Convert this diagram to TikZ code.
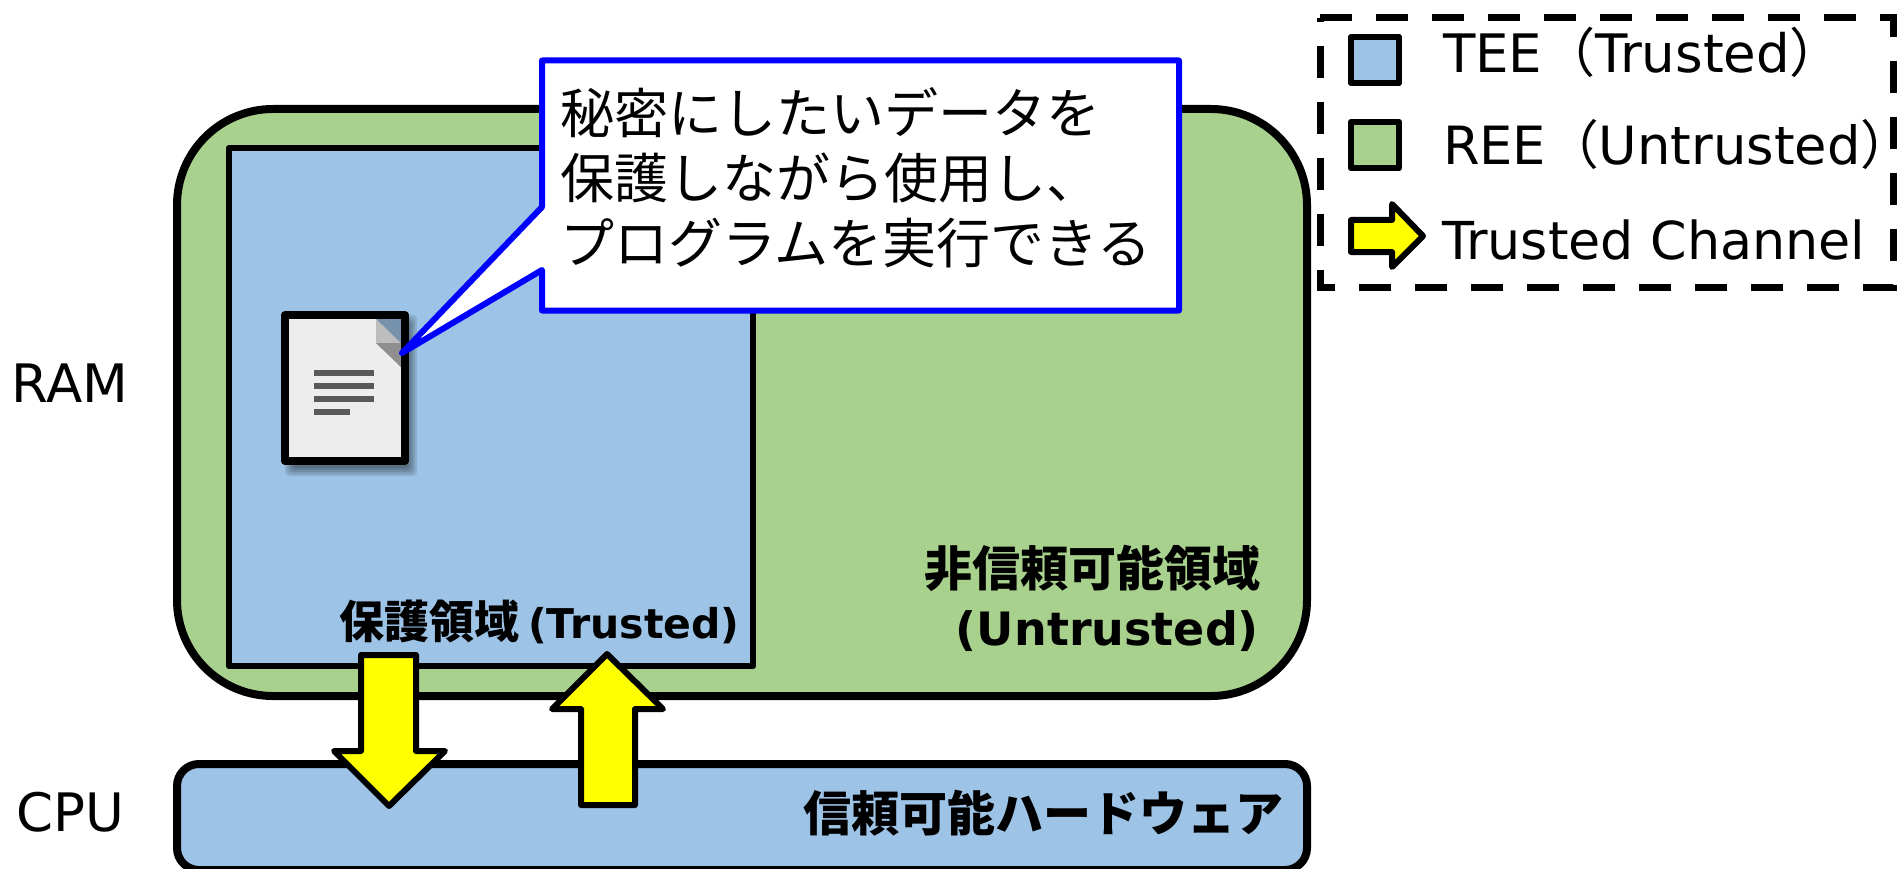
\documentclass[tikz,border=0pt]{standalone}
\usepackage{fontspec}
\setmainfont{DejaVu Sans}
\newfontfamily\cjk{Noto Sans CJK JP}
\definecolor{teeblue}{HTML}{9DC3E6}
\definecolor{reegreen}{HTML}{A9D18E}
\definecolor{calloutblue}{HTML}{0000FF}
\definecolor{chanyellow}{HTML}{FFFF00}
\tikzset{
  region/.style={draw=black,line width=8pt,line join=round},
  inner region/.style={draw=black,line width=6.5pt,line join=round},
  swatch/.style={draw=black,line width=6.5pt,line join=round},
  channel/.style={draw=black,fill=chanyellow,line width=6pt,line join=round},
  plain label/.style={inner sep=0pt,outer sep=0pt,font=\fontsize{53}{65}\selectfont,anchor=base west},
  bold label/.style={inner sep=0pt,outer sep=0pt,font=\fontsize{48}{60}\selectfont\bfseries},
  side label/.style={inner sep=0pt,outer sep=0pt,font=\fontsize{53}{65}\selectfont},
  doc line/.style={fill=black!65,draw=none}
}
\begin{document}
\begin{tikzpicture}[x=1pt,y=-1pt]
\useasboundingbox (0,0) rectangle (1898,869);
% RAM region
\draw[region,fill=reegreen,rounded corners=96pt] (177,109) rectangle (1307,696);
\draw[inner region,fill=teeblue] (229,148) rectangle (753,666);
% document icon
\foreach \s/\o in {0/.10,2/.10,4/.10,6/.10,8/.10}{
  \fill[black,opacity=\o,rounded corners=4pt] (281+\s+4,311+\s+4) rectangle (409+8-\s,466+10-\s);
}
\fill[teeblue!75!black] (376,319) -- (401,319) -- (401,343) -- cycle;
\fill[black!7] (289,319) -- (376,319) -- (376,343) -- (401,367) -- (401,457) -- (289,457) -- cycle;
\fill[black!26] (376,319) -- (376,343) -- (401,343) -- cycle;
\fill[black!44] (376,343) -- (401,343) -- (401,367) -- cycle;
\draw[black,line width=8pt,line join=round] (285,315) rectangle (405,461);
\fill[doc line] (314,370) rectangle (374,376);
\fill[doc line] (314,383) rectangle (374,389);
\fill[doc line] (314,396) rectangle (374,402);
\fill[doc line] (314,409) rectangle (350,415);
% callout
\draw[draw=calloutblue,fill=white,line width=6pt,line join=round]
  (542,60.5) -- (1179,60.5) -- (1179,310.5) -- (542,310.5) -- (542,270) -- (402,353) -- (542,207) -- cycle;
\node[plain label,align=left,anchor=north west,font=\fontsize{54}{65}\selectfont] (calloutText) at (560,87)
  {\cjk 秘密にしたいデータを\\\cjk 保護しながら使用し、\\\cjk プログラムを実行できる};
% CPU
\draw[region,fill=teeblue,rounded corners=22pt] (177,764) rectangle (1307,870);
% channels
\draw[channel] (361,655) -- (416,655) -- (416,751) -- (445,751) -- (389,806) -- (334,751) -- (361,751) -- cycle;
\draw[channel] (581,805) -- (635,805) -- (635,709) -- (663,709) -- (607,654) -- (552,709) -- (581,709) -- cycle;
% region labels
\node[bold label,anchor=base west] (teeLabel) at (339,638) {{\fontsize{45}{55}\selectfont\cjk 保護領域}\hspace{9pt}{\fontsize{41}{50}\selectfont (Trusted)}};
\node[bold label,anchor=base east] (reeLabelA) at (1260,586) {\cjk 非信頼可能領域};
\node[bold label,anchor=base east,font=\fontsize{46}{56}\selectfont\bfseries] (reeLabelB) at (1259,645) {(Untrusted)};
\node[bold label,anchor=base east] (cpuLabel) at (1283,831) {\cjk 信頼可能ハードウェア};
\node[side label] (ram) at (70,383) {RAM};
\node[side label] (cpu) at (70,812) {CPU};
% legend
\draw[black,line width=7pt,dash pattern=on 32pt off 24pt] (1320,18) -- (1893,18) -- (1893,287) -- (1320,287) -- cycle;
\draw[swatch,fill=teeblue] (1351,37) rectangle (1399,83);
\draw[swatch,fill=reegreen] (1351,122) rectangle (1399,168);
\draw[channel] (1351,220) -- (1392,220) -- (1392,204) -- (1423,236) -- (1392,267) -- (1392,252) -- (1351,252) -- cycle;
\node[plain label] (legA) at (1443,73) {TEE{\cjk （}Trusted{\cjk ）}};
\node[plain label,font=\fontsize{52.7}{65}\selectfont] (legB) at (1443,165) {REE{\cjk （}Untrusted{\cjk ）}};
\node[plain label,font=\fontsize{52.3}{65}\selectfont] (legC) at (1442,259) {Trusted Channel};
\end{tikzpicture}
\end{document}
